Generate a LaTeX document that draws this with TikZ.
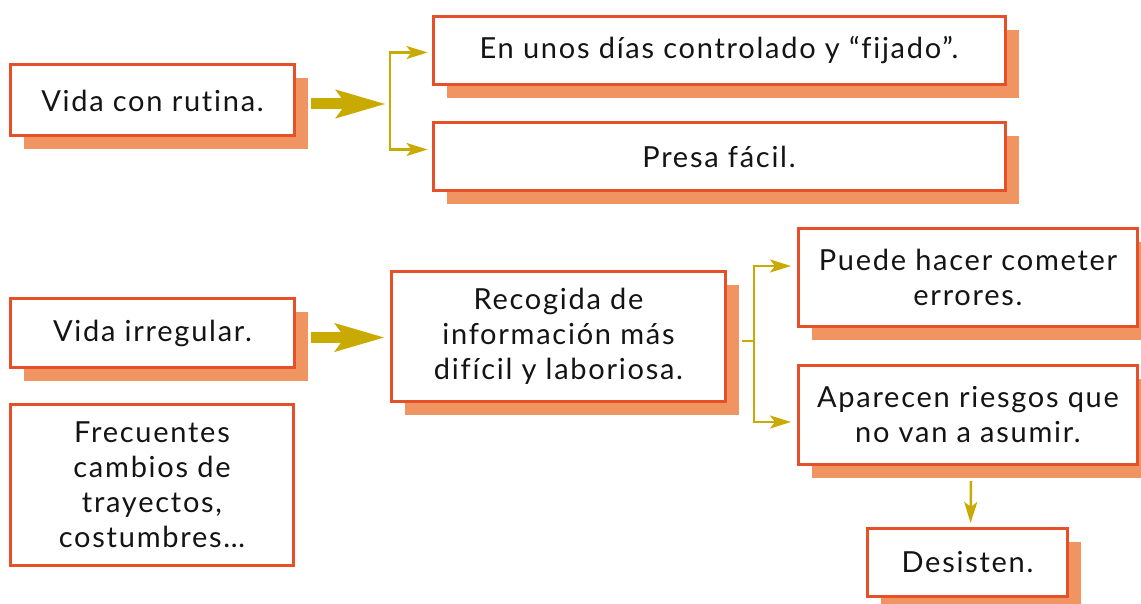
\documentclass[tikz,border=0pt]{standalone}
\usepackage{fontspec}
\setmainfont{Lato}[LetterSpace=6,Ligatures=CommonOff]
\usetikzlibrary{shadows,arrows.meta,calc}
\definecolor{bordc}{RGB}{230,80,40}
\definecolor{shadc}{RGB}{240,148,98}
\definecolor{olivec}{RGB}{200,170,0}
\definecolor{textc}{RGB}{20,20,20}
\begin{document}
\begin{tikzpicture}[x=1pt,y=-1pt,
  box/.style={draw=bordc, line width=3pt, fill=white, text=textc, align=center,
    inner sep=0pt, font=\fontsize{29}{35}\selectfont},
  shbox/.style={box, drop shadow={shadow xshift=13.5pt, shadow yshift=-13.5pt, fill=shadc, opacity=1}},
  bigarrow/.style={draw=olivec, line width=11pt, -{Stealth[length=49pt,width=27pt,inset=9pt,fill=olivec]}},
  brk/.style={draw=olivec, line width=2.5pt},
  brkarrow/.style={brk, -{Stealth[length=21pt,width=13pt,inset=5pt,fill=olivec]}}]
\useasboundingbox (0,0) rectangle (1141,604);
% nodes
\node[shbox, minimum width=284pt, minimum height=71pt] (rutina) at (152.5,100.5) {Vida con rutina.};
\node[shbox, minimum width=572pt, minimum height=68pt] (fijado) at (719,50.5) {En unos días controlado y “fijado”.};
\node[shbox, minimum width=572pt, minimum height=68pt] (presa) at (719,156.5) {Presa fácil.};
\node[shbox, minimum width=284pt, minimum height=69pt] (irregular) at (152.5,333) {Vida irregular.};
\node[box, minimum width=283pt, minimum height=161pt] (frec) at (152,485) {Frecuentes\\cambios de\\trayectos,\\costumbres…};
\node[shbox, minimum width=334pt, minimum height=130pt] (recog) at (558.5,336.5) {Recogida de\\información más\\difícil y laboriosa.};
\node[shbox, minimum width=339pt, minimum height=98pt] (puede) at (968,277.5) {Puede hacer cometer\\errores.};
\node[shbox, minimum width=339pt, minimum height=99pt] (aparecen) at (968,415) {Aparecen riesgos que\\no van a asumir.};
\node[shbox, minimum width=200pt, minimum height=68pt] (desisten) at (967.5,562.5) {Desisten.};
% junctions
\coordinate (v1) at (390,104);
\coordinate (v2) at (754,341);
% connectors
\draw[bigarrow, shorten >=4pt] ($(rutina.east)+(15,3.5)$) -- (v1);
\draw[brkarrow, shorten >=4pt] (v1) |- ($(fijado.west)+(0,2)$);
\draw[brkarrow, shorten >=4pt] (v1) |- ($(presa.west)+(0,-7)$);
\draw[bigarrow, shorten >=5pt] ($(irregular.east |- recog.west)+(15,1)$) -- ($(recog.west)+(0,1)$);
\draw[brk] ($(recog.east)+(15,4.5)$) -- (v2);
\draw[brkarrow, shorten >=6pt] (v2) |- ($(puede.west)+(0,-11.5)$);
\draw[brkarrow, shorten >=6pt] (v2) |- ($(aparecen.west)+(0,7)$);
\draw[brkarrow, shorten >=4pt] ($(aparecen.south)+(3,15)$) -- ($(desisten.north)+(3,0)$);
\end{tikzpicture}
\end{document}
